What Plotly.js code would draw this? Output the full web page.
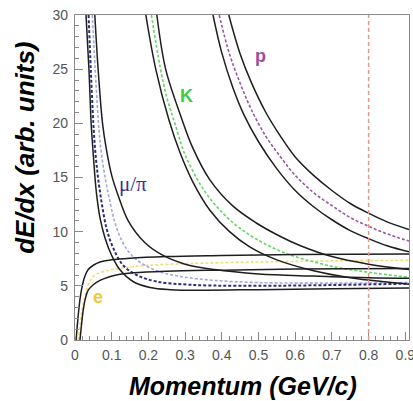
<!DOCTYPE html>
<html>
<head>
<meta charset="utf-8">
<script src="https://cdn.plot.ly/plotly-3.0.1.min.js"></script>
<style>html,body{margin:0;padding:0;background:#fff;}#chart{width:413px;height:401px;}</style>
</head>
<body>
<div id="chart"></div>
<script>
// ---- data (momentum in GeV/c, dE/dx in arb. units) ----
// electrons
const eUpP = [0.003,0.008,0.013,0.018,0.026,0.036,0.05,0.068,0.1,0.15,0.25,0.4,0.6,0.91];
const eUpY = [0,2.0,3.6,4.7,5.8,6.5,6.9,7.2,7.4,7.55,7.7,7.8,7.9,7.95];
const eMidP = [0.009,0.016,0.022,0.027,0.035,0.045,0.06,0.086,0.14,0.2,0.3,0.5,0.7,0.91];
const eMidY = [0,2.0,3.2,4.0,5.0,5.7,6.1,6.4,6.7,6.9,7.05,7.2,7.3,7.35];
const eLoP = [0.0136,0.018,0.0226,0.028,0.036,0.05,0.068,0.09,0.113,0.16,0.25,0.4,0.6,0.91];
const eLoY = [0,1.5,2.8,3.8,4.6,5.1,5.5,5.8,6.0,6.2,6.35,6.45,6.55,6.6];
// muons / pions
const mpLoP = [0.030,0.038,0.044,0.049,0.054,0.059,0.068,0.082,0.10,0.122,0.158,0.204,0.26,0.35,0.5,0.7,0.91];
const mpLoY = [30,25,20,17.5,15.2,13.4,11.3,9.4,7.8,6.5,5.4,4.85,4.65,4.6,4.65,4.72,4.8];
const muP = [0.037,0.043,0.050,0.055,0.062,0.072,0.086,0.104,0.131,0.168,0.222,0.313,0.45,0.65,0.91];
const muY = [30,25,20,17.5,15.2,12.8,10.3,8.5,6.9,6.0,5.4,5.1,5.0,5.05,5.2];
const piP = [0.047,0.055,0.064,0.071,0.082,0.095,0.11,0.13,0.155,0.19,0.24,0.3,0.38,0.5,0.7,0.91];
const piY = [30,25,20,17.5,15.0,12.8,10.7,9.0,7.8,6.9,6.2,5.8,5.5,5.3,5.25,5.3];
const mpUpP = [0.054,0.063,0.075,0.086,0.10,0.118,0.145,0.19,0.235,0.30,0.38,0.5,0.65,0.8,0.91];
const mpUpY = [30,25,20,17.5,15.2,13.3,11.0,9.0,7.9,7.0,6.5,6.1,5.9,5.75,5.7];
// kaons
const kLoP = [0.193,0.220,0.256,0.286,0.321,0.367,0.421,0.476,0.55,0.65,0.75,0.85,0.91];
const kLoY = [30,25,20.3,17.3,14.6,12.0,10.0,8.6,7.4,6.4,5.75,5.35,5.15];
const kMidP = [0.208,0.232,0.25,0.272,0.30,0.35,0.40,0.45,0.50,0.55,0.60,0.70,0.80,0.91];
const kMidY = [30,25.2,22.4,20.0,17.1,13.9,11.8,10.3,9.2,8.35,7.7,6.8,6.25,5.8];
const kUpP = [0.223,0.247,0.290,0.320,0.367,0.429,0.494,0.557,0.611,0.7,0.8,0.91];
const kUpY = [30,25,20.5,17.8,14.8,12.4,10.8,9.6,8.75,7.7,7.0,6.5];
// protons
const pLoP = [0.376,0.40,0.43,0.46,0.50,0.55,0.60,0.65,0.70,0.75,0.80,0.85,0.91];
const pLoY = [30,26.5,23.3,20.8,18.3,15.8,13.8,12.3,11.1,10.1,9.35,8.7,8.15];
const pMidP = [0.393,0.42,0.45,0.48,0.52,0.56,0.60,0.65,0.70,0.75,0.80,0.85,0.91];
const pMidY = [30,26.5,23.7,21.3,18.8,16.9,15.2,13.6,12.4,11.3,10.5,9.8,9.13];
const pUpP = [0.419,0.45,0.48,0.52,0.56,0.60,0.65,0.70,0.75,0.80,0.85,0.91];
const pUpY = [30,26.4,23.8,21.0,18.8,16.9,15.2,13.8,12.6,11.7,10.9,10.2];
// cut line and labels
const cutP = 0.8;
const labelText = ['p','K','\u03bc/\u03c0','e'];
const labelP = [0.505,0.303,0.158,0.063];
const labelY = [26.2,22.5,14.4,4.0];

const BLACK = '#1e1e1e';
function solid(x,y){return {x:x,y:y,mode:'lines',type:'scatter',hoverinfo:'skip',line:{color:BLACK,width:1.5,shape:'spline',smoothing:1}};}
function dotted(x,y,c,w){return {x:x,y:y,mode:'lines',type:'scatter',hoverinfo:'skip',line:{color:c,width:w||1.6,dash:'3px,2px',shape:'spline',smoothing:1}};}

const traces = [
  dotted(eMidP,eMidY,'#eedc7a'),
  dotted(piP,piY,'#a6a6dc'),
  dotted(muP,muY,'#2c2c7a',2),
  dotted(kMidP,kMidY,'#66d466'),
  dotted(pMidP,pMidY,'#9a55a8'),
  solid(eUpP,eUpY), solid(eLoP,eLoY),
  solid(mpLoP,mpLoY), solid(mpUpP,mpUpY),
  solid(kLoP,kLoY), solid(kUpP,kUpY),
  solid(pLoP,pLoY), solid(pUpP,pUpY)
];

const labelColors = ['#9b4d9f','#3ccc3c','#34349a','#f0c83a'];
const labelFonts = ['Liberation Sans','Liberation Sans','Liberation Serif','Liberation Sans'];
const labelWeights = ['bold','bold','normal','bold'];
const labelSizes = [18,18,21,18];
const annotations = labelText.map((t,i)=>({x:labelP[i],y:labelY[i],xref:'x',yref:'y',text:t,showarrow:false,
  font:{family:labelFonts[i],size:labelSizes[i],color:labelColors[i],weight:labelWeights[i]}}));
annotations.push({xref:'paper',yref:'paper',x:0.503,y:-0.142,text:'Momentum (GeV/c)',showarrow:false,xanchor:'center',yanchor:'middle',
  font:{family:'Liberation Sans',size:25,color:'#000',weight:'bold',style:'italic'}});
annotations.push({xref:'paper',yref:'paper',x:-0.152,y:0.592,text:'dE/dx (arb. units)',textangle:-90,showarrow:false,xanchor:'center',yanchor:'middle',
  font:{family:'Liberation Sans',size:26,color:'#000',weight:'bold',style:'italic'}});

const axisCommon = {showgrid:false,zeroline:false,showline:true,linecolor:'#8a8a8a',linewidth:1.2,mirror:true,
  ticks:'inside',tickcolor:'#8a8a8a',tickwidth:1,ticklen:8,ticklabeloverflow:'allow',
  tickfont:{family:'Liberation Sans',size:14,color:'#555'}};

const layout = {
  width:413,height:401,margin:{l:75,r:4,t:15,b:61},
  paper_bgcolor:'#fff',plot_bgcolor:'#fff',showlegend:false,
  xaxis:Object.assign({},axisCommon,{range:[0,0.91],tick0:0,dtick:0.1,ticklabelstandoff:2,
    minor:{ticks:'inside',ticklen:4,dtick:0.02,tick0:0,tickcolor:'#8a8a8a',tickwidth:1}}),
  yaxis:Object.assign({},axisCommon,{range:[0,30],tick0:0,dtick:5,ticklabelstandoff:3,
    minor:{ticks:'inside',ticklen:4,dtick:1,tick0:0,tickcolor:'#8a8a8a',tickwidth:1}}),
  shapes:[{type:'line',xref:'x',yref:'y',x0:cutP,x1:cutP,y0:0,y1:30,line:{color:'#e39a8c',width:1.5,dash:'4px,3px'}}],
  annotations:annotations
};
Plotly.newPlot('chart',traces,layout,{staticPlot:true,displayModeBar:false});
</script>
</body>
</html>
